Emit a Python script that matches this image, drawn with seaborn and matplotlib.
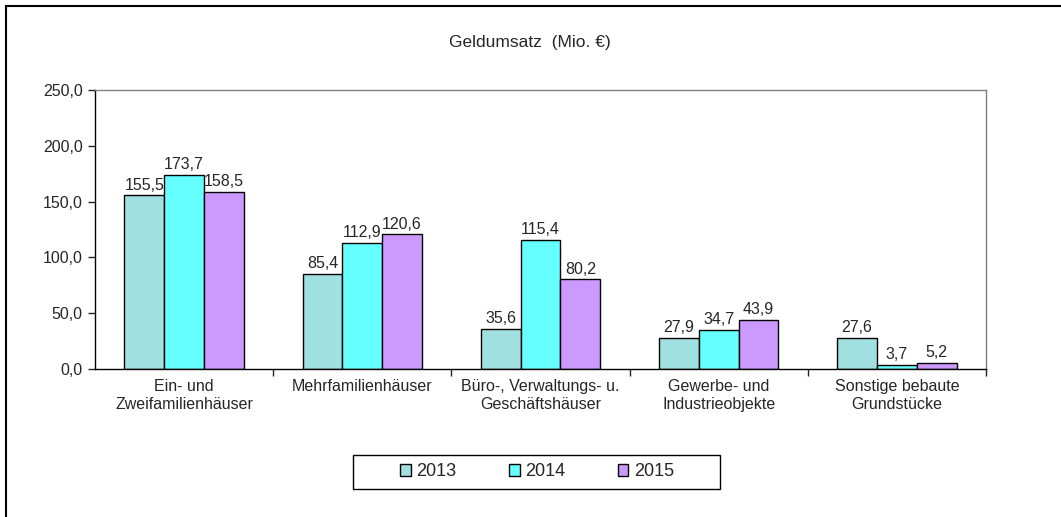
import matplotlib
matplotlib.use('Agg')
from matplotlib import pyplot as plt
from matplotlib.patches import Rectangle
import seaborn as sns
import pandas as pd

categories = ['Ein- und\nZweifamilienhäuser', 'Mehrfamilienhäuser',
              'Büro-, Verwaltungs- u.\nGeschäftshäuser', 'Gewerbe- und\nIndustrieobjekte',
              'Sonstige bebaute\nGrundstücke']
years = ['2013', '2014', '2015']
values_2013 = [155.5, 85.4, 35.6, 27.9, 27.6]
values_2014 = [173.7, 112.9, 115.4, 34.7, 3.7]
values_2015 = [158.5, 120.6, 80.2, 43.9, 5.2]
colors = ['#A0E0E0', '#66FFFF', '#CC99FF']

df = pd.DataFrame({
    'Kategorie': categories * 3,
    'Jahr': [y for y in years for _ in categories],
    'Wert': values_2013 + values_2014 + values_2015,
})

sns.set_style('white')
plt.rcParams['font.family'] = ['Liberation Sans', 'DejaVu Sans']

fig = plt.figure(figsize=(10.61, 5.17), dpi=100)
ax = fig.add_axes([95 / 1061, 1 - 369 / 517, 891 / 1061, 279 / 517])

sns.barplot(data=df, x='Kategorie', y='Wert', hue='Jahr', palette=colors,
            width=0.67, edgecolor='black', linewidth=1, saturation=1,
            ax=ax, legend=True)

for container in ax.containers:
    ax.bar_label(container, labels=[f'{v:.1f}'.replace('.', ',') for v in container.datavalues],
                 padding=2, fontsize=11.5)

ax.set_ylim(0, 250)
ax.set_xlim(-0.5, 4.5)
ax.set_yticks(range(0, 251, 50))
ax.set_yticklabels([f'{v:.1f}'.replace('.', ',') for v in range(0, 251, 50)], fontsize=11.5)
ax.set_xticks(range(5))
ax.set_xticklabels(categories, fontsize=11.5, linespacing=1.25)
ax.tick_params(axis='x', length=0, pad=7)
ax.tick_params(axis='y', length=5, width=1, direction='out', left=True, pad=4)
ax.set_xticks([0.5, 1.5, 2.5, 3.5, 4.5], minor=True)
ax.tick_params(axis='x', which='minor', length=5, width=1, direction='out', bottom=True)
ax.set_xlabel('')
ax.set_ylabel('')

for side in ['top', 'right']:
    ax.spines[side].set_color('#808080')
for side in ['left', 'bottom']:
    ax.spines[side].set_color('black')
for s in ax.spines.values():
    s.set_linewidth(1)

# Legende ohne eigenen Rahmen, Rahmen separat (Excel-Stil mit viel Innenabstand)
ax.legend(loc='center', bbox_to_anchor=(537 / 1061, 1 - 472 / 517), bbox_transform=fig.transFigure,
          ncol=3, frameon=False, fontsize=13,
          handlelength=0.6, handleheight=0.6, handletextpad=0.3, columnspacing=2.9,
          borderpad=0, borderaxespad=0)
fig.patches.append(Rectangle((353 / 1061, 1 - 489 / 517), 367 / 1061, 34 / 517,
                             transform=fig.transFigure, fill=False, edgecolor='black', linewidth=1))

fig.text(530 / 1061, 1 - 42 / 517, 'Geldumsatz  (Mio. €)', ha='center', va='center', fontsize=12.5)

fig.patches.append(Rectangle((6 / 1061, -0.1), 1.2, 1.1 - 6 / 517, transform=fig.transFigure,
                             fill=False, edgecolor='black', linewidth=1.5))

fig.savefig('out.png', dpi=100)
